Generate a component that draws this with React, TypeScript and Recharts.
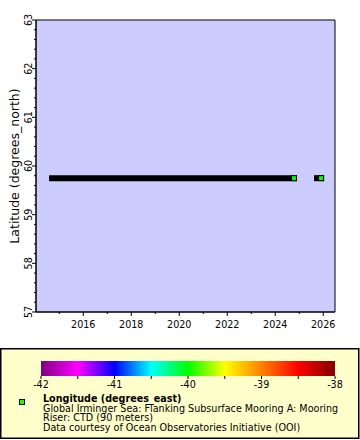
import React from 'react';
import {
  ComposedChart, XAxis, YAxis, Line, Scatter, ReferenceArea, Label
} from 'recharts';

// time extents of the two deployments (decimal year), latitude in degrees_north
const deployment1 = [
  { t: 2014.70, lat: 59.75 },
  { t: 2024.78, lat: 59.75 },
];
const deployment2 = [
  { t: 2025.74, lat: 59.75 },
  { t: 2025.91, lat: 59.75 },
];
// last sample of each deployment, coloured by longitude
const lastSamples = [
  { t: 2024.78, lat: 59.75, lon: -39.94 },
  { t: 2025.91, lat: 59.75, lon: -39.94 },
];

const xDomain = [2014.03, 2026.49];
const xTicks = [2015, 2016, 2017, 2018, 2019, 2020, 2021, 2022, 2023, 2024, 2025, 2026];
const xLabels = [2016, 2018, 2020, 2022, 2024, 2026];
const yLabels = [57, 58, 59, 60, 61, 62, 63];
const yTicks: number[] = [];
for (let i = 0; i <= 30; i++) yTicks.push(Math.round((57 + i * 0.2) * 10) / 10);

const cbLabels = [-42, -41, -40, -39, -38];
const cbTicks = [-42, -41.5, -41, -40.5, -40, -39.5, -39, -38.5, -38];
const cbColors = ['#800080', '#ff00ff', '#0000ff', '#00ffff', '#00ff00', '#ffff00', '#ff8000', '#ff0000', '#800000'];

const FONT = '"DejaVu Sans", Verdana, sans-serif';

const YTick = (props: any) => {
  const { x, y, payload } = props;
  const major = yLabels.includes(payload.value);
  return (
    <g>
      <line x1={x} x2={x - (major ? 4 : 2)} y1={y} y2={y} stroke="#000" />
      {major && (
        <text
          transform={`translate(${x - 4},${y}) rotate(-90)`}
          textAnchor="middle"
          fontSize={9.6}
          fontFamily={FONT}
          fill="#000"
        >
          {payload.value}
        </text>
      )}
    </g>
  );
};

const XTick = (props: any) => {
  const { x, y, payload } = props;
  const major = xLabels.includes(payload.value);
  return (
    <g>
      <line x1={x} x2={x} y1={y} y2={y + (major ? 4 : 2)} stroke="#000" />
      {major && (
        <text x={x} y={y + 16} textAnchor="middle" fontSize={9.6} fontFamily={FONT} fill="#000">
          {payload.value}
        </text>
      )}
    </g>
  );
};

const lonColor = (lon: number) => {
  const f = (lon - cbTicks[0]) / (cbTicks[cbTicks.length - 1] - cbTicks[0]);
  return f > 0.49 && f < 0.51 ? '#1aff00' : cbColors[Math.round(f * 8)];
};

const Marker = (props: any) => {
  const { cx, cy, payload } = props;
  return (
    <rect x={cx - 2.5} y={cy - 2.5} width={5} height={5}
      fill={lonColor(payload.lon)} stroke="#000" strokeWidth={1} />
  );
};

const ColorLegend = () => {
  const cbX = 41, cbW = 294, cbY = 361, cbH = 15;
  const sx = (v: number) => cbX + ((v - cbTicks[0]) / (cbTicks[cbTicks.length - 1] - cbTicks[0])) * cbW;
  return (
    <svg width={360} height={440} style={{ position: 'absolute', left: 0, top: 0, pointerEvents: 'none' }}>
      <defs>
        <linearGradient id="rainbow" x1="0" x2="1" y1="0" y2="0">
          {cbColors.map((c, i) => (
            <stop key={i} offset={`${(i / (cbColors.length - 1)) * 100}%`} stopColor={c} />
          ))}
        </linearGradient>
      </defs>
      <rect x={0.75} y={348.75} width={358} height={89.5} fill="#ffffcc" stroke="#000" strokeWidth={1.5} />
      <rect x={cbX} y={cbY} width={cbW} height={cbH} fill="url(#rainbow)" />
      {cbTicks.map((v) => (
        <line key={v} x1={sx(v)} x2={sx(v)} y1={cbY + cbH} y2={cbY + cbH + 3} stroke="#000" />
      ))}
      {cbLabels.map((v) => (
        <text key={v} x={sx(v)} y={388} textAnchor="middle" fontSize={9.6} fontFamily={FONT} fill="#000">
          {v}
        </text>
      ))}
      <rect x={19.5} y={399.5} width={5} height={5} fill="#1aff00" stroke="#000" />
      <text x={43} y={402} fontSize={9.6} fontFamily={FONT} fontWeight="bold" fill="#000">
        Longitude (degrees_east)
      </text>
      <text x={43} y={411.5} fontSize={9.6} fontFamily={FONT} fill="#000">
        Global Irminger Sea: Flanking Subsurface Mooring A: Mooring
      </text>
      <text x={43} y={421} fontSize={9.6} fontFamily={FONT} fill="#000">
        Riser: CTD (90 meters)
      </text>
      <text x={43} y={430.5} fontSize={9.6} fontFamily={FONT} fill="#000">
        Data courtesy of Ocean Observatories Initiative (OOI)
      </text>
    </svg>
  );
};

export default function App() {
  return (
    <div style={{ position: 'absolute', left: 0, top: 0, width: 360, height: 440, background: '#fff' }}>
      <ComposedChart
        width={360}
        height={440}
        margin={{ top: 20, right: 25, bottom: 108, left: 0 }}
      >
        <XAxis
          type="number"
          dataKey="t"
          domain={xDomain}
          ticks={xTicks}
          interval={0}
          tickSize={0}
          tickMargin={0}
          tick={<XTick />}
          tickLine={false}
          axisLine={{ stroke: '#000' }}
          height={20}
          allowDataOverflow
        />
        <YAxis
          type="number"
          dataKey="lat"
          domain={[57, 63]}
          ticks={yTicks}
          interval={0}
          tickSize={0}
          tickMargin={0}
          tick={<YTick />}
          tickLine={false}
          axisLine={{ stroke: '#000' }}
          width={36}
          allowDataOverflow
        >
          <Label
            value="Latitude (degrees_north)"
            angle={-90}
            position="center"
            dx={-3}
            style={{ fontSize: 12.5, fontFamily: FONT, fill: '#000' }}
          />
        </YAxis>
        <ReferenceArea
          x1={xDomain[0]}
          x2={xDomain[1]}
          y1={57}
          y2={63}
          fill="#ccccff"
          fillOpacity={1}
          stroke="#000"
          strokeWidth={1}
        />
        <Line
          data={deployment1}
          dataKey="lat"
          stroke="#000"
          strokeWidth={6}
          strokeLinecap="square"
          dot={false}
          activeDot={false}
          isAnimationActive={false}
        />
        <Line
          data={deployment2}
          dataKey="lat"
          stroke="#000"
          strokeWidth={6}
          strokeLinecap="square"
          dot={false}
          activeDot={false}
          isAnimationActive={false}
        />
        <Scatter data={lastSamples} dataKey="lat" shape={<Marker />} isAnimationActive={false} />
      </ComposedChart>
      <ColorLegend />
    </div>
  );
}
